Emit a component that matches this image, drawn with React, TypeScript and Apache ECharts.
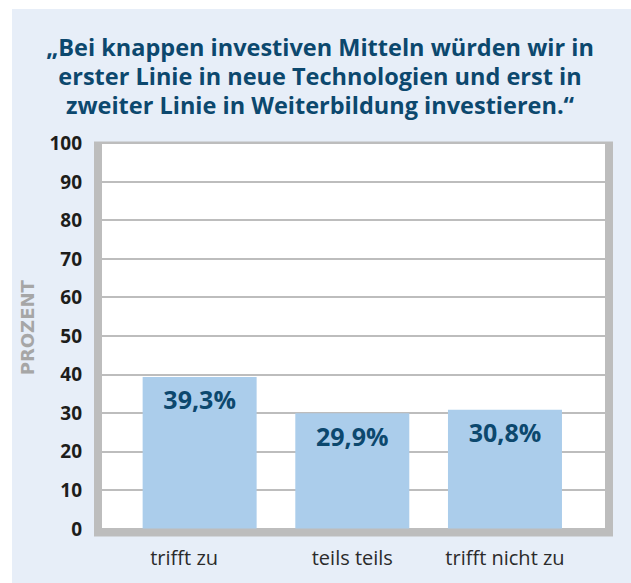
import React, { useEffect, useRef } from "react";
import * as echarts from "echarts";

const titleLines = [
  "\u201EBei knappen investiven Mitteln w\u00FCrden wir in",
  "erster Linie in neue Technologien und erst in",
  "zweiter Linie in Weiterbildung investieren.\u201C",
];
const categories = ["trifft zu", "teils teils", "trifft nicht zu"];
const values = [39.3, 29.9, 30.8];
const yMin = 0;
const yMax = 100;
const yInterval = 10;
const yAxisName = "PROZENT";

const W = 631;
const H = 583;
const plotLeft = 102;
const plotRight = 605;
const plotTop = 143;
const plotBottom = 528.5;
const barBandLeft = 123.3;
const barBandRight = 581.3;

const DARK = "#0c486e";
const GRAY = "#bdbdbd";
const FONT = '"Open Sans", "Noto Sans", sans-serif';

export default function App() {
  const ref = useRef<HTMLDivElement>(null);
  useEffect(() => {
    document.body.style.margin = "0";
    if (!ref.current) return;
    const chart = echarts.init(ref.current, undefined, { renderer: "svg" });
    chart.setOption({
      animation: false,
      backgroundColor: "#ffffff",
      graphic: [
        { type: "rect", z: -30, silent: true, shape: { x: 12, y: 9, width: W - 12, height: H - 9 }, style: { fill: "#e7eef8" } },
        { type: "rect", z: -20, silent: true, shape: { x: plotLeft - 8, y: plotTop - 1.5, width: plotRight - plotLeft + 16, height: plotBottom - plotTop + 9.5 }, style: { fill: GRAY } },
        { type: "rect", z: -10, silent: true, shape: { x: plotLeft, y: plotTop + 1, width: plotRight - plotLeft, height: plotBottom - plotTop - 1 }, style: { fill: "#ffffff" } },
        {
          type: "text",
          x: 320,
          y: 32,
          silent: true,
          style: {
            text: titleLines.join("\n"),
            align: "center",
            verticalAlign: "top",
            fontFamily: FONT,
            fontWeight: "bold",
            fontSize: 23.5,
            lineHeight: 29,
            fill: DARK,
          },
        },
      ],
      grid: [
        { left: plotLeft, right: W - plotRight, top: plotTop, bottom: H - plotBottom },
        { left: barBandLeft, right: W - barBandRight, top: plotTop, bottom: H - plotBottom },
      ],
      xAxis: [
        { type: "value", gridIndex: 0, show: false, min: 0, max: 1 },
        {
          type: "category",
          gridIndex: 1,
          data: categories.map((c, i) =>
            i === 0 ? { value: c, textStyle: { padding: [0, 31, 0, 0] } } : c
          ),
          axisLine: { show: false },
          axisTick: { show: false },
          axisLabel: { interval: 0, margin: 19, fontFamily: FONT, fontSize: 20, color: "#2b2b2b" },
        },
      ],
      yAxis: [
        {
          type: "value",
          gridIndex: 0,
          min: yMin,
          max: yMax,
          interval: yInterval,
          axisLine: { show: false },
          axisTick: { show: false },
          splitLine: { show: true, lineStyle: { color: GRAY, width: 2 } },
          axisLabel: { margin: 20, fontFamily: FONT, fontWeight: "bold", fontSize: 19, color: "#1d1d1b" },
          name: yAxisName,
          nameLocation: "middle",
          nameGap: 66,
          nameTextStyle: { fontFamily: '"DejaVu Sans", sans-serif', fontWeight: "bold", fontSize: 18, color: "#a6a6a6", padding: [0, 0, 0, 16] },
        },
        { type: "value", gridIndex: 1, min: yMin, max: yMax, interval: yInterval, show: false },
      ],
      series: [
        {
          type: "bar",
          xAxisIndex: 1,
          yAxisIndex: 1,
          data: values,
          barWidth: 114,
          itemStyle: { color: "#abcdeb" },
          label: {
            show: true,
            position: "insideTop",
            distance: 10,
            formatter: (p: any) => p.value.toFixed(1).replace(".", ",") + "%",
            fontFamily: FONT,
            fontWeight: "bold",
            fontSize: 25,
            color: DARK,
          },
        },
      ],
    });
    return () => chart.dispose();
  }, []);
  return <div ref={ref} style={{ width: W, height: H }} />;
}
